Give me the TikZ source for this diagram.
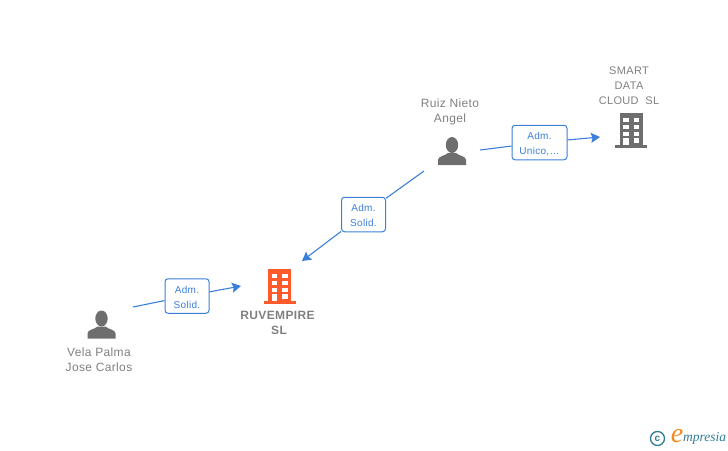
\documentclass[tikz,border=0pt]{standalone}
\usepackage{fontspec}
\setmainfont{Liberation Sans}
\newfontfamily\labelfont[LetterSpace=3]{Liberation Sans}
\newfontfamily\logofont{Liberation Serif}
\usepackage{xcolor}
\usetikzlibrary{arrows.meta}
\definecolor{linkblue}{HTML}{3C7FDB}
\definecolor{labelgray}{HTML}{808080}
\definecolor{iconorange}{HTML}{FF5A2B}
\definecolor{icongray}{HTML}{6E6E6E}
\definecolor{logoteal}{HTML}{2F7C93}
\definecolor{logoorange}{HTML}{F28A1E}

\begin{document}
\begin{tikzpicture}[x=1pt,y=-1pt]
\tikzset{link/.style={linkblue,line width=1.1pt}}
\tikzset{linkarrow/.style={link,-{Stealth[length=9pt,width=10pt,inset=1.5pt]}}}
\tikzset{rolebox/.style={draw=linkblue,rounded corners=3pt,line width=1pt,fill=white,text=linkblue,font=\labelfont\fontsize{10}{15}\selectfont,align=center,minimum width=44pt,minimum height=34.5pt,inner sep=0pt,text depth=1pt}}
\tikzset{partylabel/.style={text=labelgray,font=\labelfont\fontsize{12}{15}\selectfont,align=center,inner sep=0pt}}
\tikzset{person/.pic={
  \fill[icongray] (0,-6) ellipse (6.2 and 8);
  \fill[icongray] (-14,14) -- (-14,9) .. controls (-14,5) and (-7,5) .. (-4,2) -- (4,2) .. controls (7,5) and (14,5) .. (14,9) -- (14,14) -- cycle;
}}
\tikzset{building/.pic={
  \fill[#1] (-11.5,-17) rectangle (11.5,15);
  \fill[#1] (-16,15) rectangle (16,17.5);
  \foreach \yy in {-12.5,-5.5,1.5}
    \foreach \xx in {-8,2.5}
      \fill[white] (\xx,\yy) rectangle +(5.5,4.5);
  \fill[white] (-8,8) rectangle +(5.5,7);
  \fill[white] (2.5,8) rectangle +(5.5,4.5);
}}
\useasboundingbox (0,0) rectangle (728,450);

\pic at (452,151) {person};
\pic at (101.5,324.5) {person};
\pic at (631,130) {building=icongray};
\pic at (279.5,286) {building=iconorange};

\node[partylabel] (ruiz) at (450,111.5) {Ruiz Nieto\\Angel};
\node[partylabel] (vela) at (99,360) {Vela Palma\\Jose Carlos};
\node[partylabel,font=\labelfont\fontsize{11}{15}\selectfont] (smart) at (629,85.5) {SMART\\DATA\\CLOUD\ \ SL};
\node[partylabel,font=\labelfont\fontsize{12}{15}\selectfont\bfseries] (ruvempire) at (277.5,322.5) {RUVEMPIRE\\\hspace*{3pt}SL};

\node[rolebox,minimum width=55pt] (unico) at (539.5,142.5) {\rule{0pt}{10pt}Adm.\\Unico,\dots};
\node[rolebox] (solid1) at (363.5,214.5) {\rule{0pt}{10pt}Adm.\\Solid.};
\node[rolebox] (solid2) at (187,296) {\rule{0pt}{10pt}Adm.\\Solid.};

\coordinate (ruizout) at (480,150);
\coordinate (ruizdown) at (424,171);
\coordinate (velaout) at (133,307);
\coordinate (smartin) at (600,137);
\coordinate (ruvin1) at (302,261);
\coordinate (ruvin2) at (241,286);

\draw[link] (ruizout) -- (unico);
\draw[linkarrow] (unico) -- (smartin);
\draw[link] (ruizdown) -- (solid1);
\draw[linkarrow] (solid1) -- (ruvin1);
\draw[link] (velaout) -- (solid2);
\draw[linkarrow] (solid2) -- (ruvin2);

\node[draw=logoteal,circle,line width=1.3pt,inner sep=0pt,minimum size=14pt,text=logoteal,font=\bfseries\fontsize{10}{10}\selectfont] (copyr) at (657.5,438.5) {c};
\node[text=logoorange,font=\logofont\itshape\fontsize{28}{28}\selectfont,inner sep=0pt] (logoe) at (677,436) {e};
\node[text=logoteal,font=\logofont\itshape\fontsize{13.5}{14}\selectfont,inner sep=0pt,anchor=west] (logotext) at (683,438.5) {mpresia};
\end{tikzpicture}
\end{document}
